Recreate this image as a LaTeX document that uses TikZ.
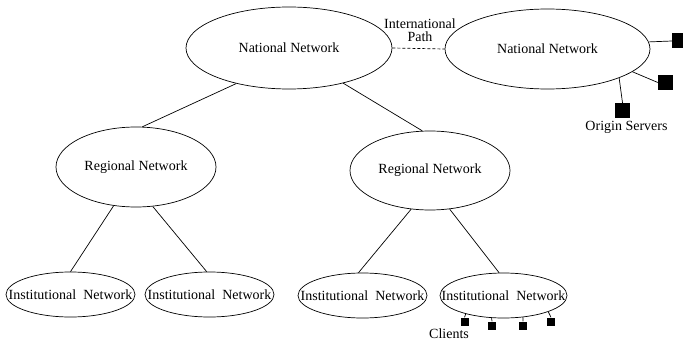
\documentclass[tikz,border=0pt]{standalone}
\usepackage{fontspec}
\setmainfont{Liberation Serif}
\usetikzlibrary{shapes.geometric}
\begin{document}
\begin{tikzpicture}[x=1pt,y=-1pt,
  net/.style={ellipse,draw,line width=0.7pt,inner sep=0pt,font=\fontsize{14}{16}\selectfont},
  link/.style={line width=0.7pt},
  txt/.style={inner sep=0pt,font=\fontsize{14}{13}\selectfont,align=center},
  server/.style={fill=black,draw=none,minimum size=15pt,inner sep=0pt},
  client/.style={fill=black,draw=none,minimum size=8pt,inner sep=0pt}]
\useasboundingbox (0,0) rectangle (683,350);
% ellipses
\node[net,minimum width=206pt,minimum height=82pt] (nl) at (289,48) {\makebox[0pt]{National Network}};
\node[net,minimum width=205pt,minimum height=80pt] (nr) at (547.5,49) {\makebox[0pt]{National Network}};
\node[net,minimum width=160pt,minimum height=80pt] (rl) at (136,167) {\makebox[0pt]{Regional Network}};
\node[net,minimum width=160pt,minimum height=79pt] (rr) at (430,170.5) {\makebox[0pt]{Regional Network}};
\node[net,minimum width=129pt,minimum height=45pt] (i1) at (70.5,294.5) {\makebox[0pt]{Institutional\ \ Network}};
\node[net,minimum width=129pt,minimum height=45pt] (i2) at (209.5,294.5) {\makebox[0pt]{Institutional\ \ Network}};
\node[net,minimum width=129pt,minimum height=45pt] (i3) at (362.5,295.5) {\makebox[0pt]{Institutional\ \ Network}};
\node[net,minimum width=127pt,minimum height=45pt] (i4) at (503.5,295.5) {\makebox[0pt]{Institutional\ \ Network}};
% labels
\node[txt] (ip) at (420,30.5) {International\\Path};
\node[txt] (os) at (626.5,127) {Origin Servers};
\node[txt] (cl) at (449,334) {Clients};
% servers
\node[server] (s1) at (679.5,41) {};
\node[server] (s2) at (665.5,82.5) {};
\node[server] (s3) at (622.5,110.5) {};
% clients
\node[client] (c1) at (464.5,321.5) {};
\node[client] (c2) at (492,325.5) {};
\node[client] (c3) at (523,325.5) {};
\node[client] (c4) at (551,321.5) {};
% connectors
\draw[link] (nl.214.5) -- (rl.81.5);
\draw[link] (nl.327) -- (rr.101.5);
\draw[link] (rl.240.3) -- (i1.90);
\draw[link] (rl.293.5) -- (i2.97.6);
\draw[link] (rr.244.9) -- (i3.100);
\draw[link] (rr.297.6) -- (i4.101.8);
\draw[link,dash pattern=on 3pt off 2pt] (nl.east) -- (nr.west);
\draw[link] (nr.4) -- (s1.west);
\draw[link] (nr.345.6) -- (s2.west);
\draw[link] (nr.338.9) -- (s3.north);
\draw[link] (i4.206.8) -- (c1.north);
\draw[link] (i4.242.5) -- (c2.north);
\draw[link] (i4.312.3) -- (c3.north);
\draw[link] (i4.340.2) -- (c4.north);
\end{tikzpicture}
\end{document}
